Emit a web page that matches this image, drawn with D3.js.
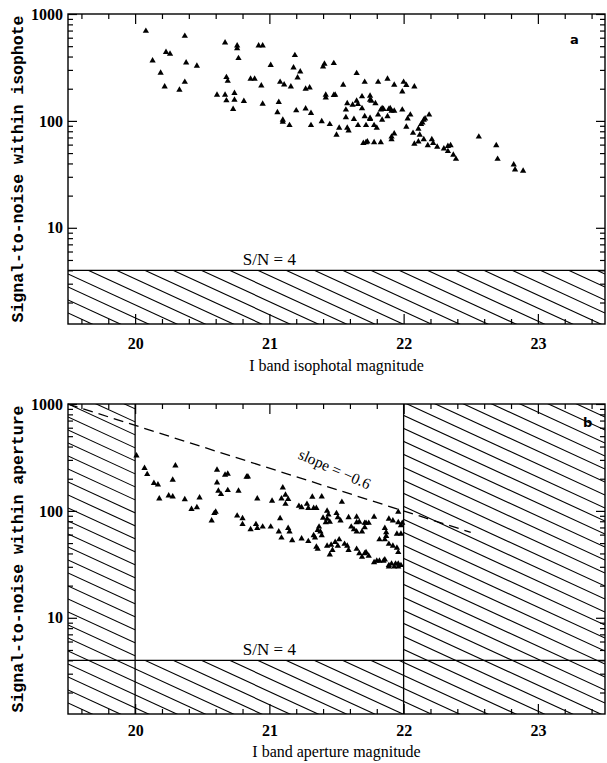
<!DOCTYPE html>
<html>
<head>
<meta charset="utf-8">
<script src="https://cdn.jsdelivr.net/npm/d3@7"></script>
<style>
  body { margin: 0; background: #fff; }
</style>
</head>
<body>
<div id="chart"></div>
<script>
var svgWidth = 607;
var svgHeight = 763;

var margin = { left: 68, right: 2 };
var width = svgWidth - margin.left - margin.right;
var height = 310;
var panelTops = [14, 404];

// panel a: I band isophotal magnitude vs S/N within isophote
var isoMag = [20.08, 20.13, 20.19, 20.22, 20.23, 20.26, 20.33, 20.37, 20.38, 20.37,
  20.46, 20.61, 20.67, 20.68, 20.69, 20.67, 20.68, 20.74, 20.74, 20.73,
  20.76, 20.76, 20.77, 20.81, 20.86, 20.89, 20.92, 20.95, 20.94, 20.95,
  21.01, 21.07, 21.08, 21.11, 21.06, 21.10, 21.10, 21.15, 21.16, 21.18,
  21.19, 21.21, 21.23, 21.20, 21.27, 21.30, 21.27, 21.31, 21.31, 21.39,
  21.40, 21.41, 21.42, 21.42, 21.45, 21.48, 21.48, 21.49, 21.50, 21.52,
  21.55, 21.58, 21.57, 21.57, 21.58, 21.59, 21.62, 21.63, 21.65, 21.65,
  21.66, 21.66, 21.69, 21.69, 21.71, 21.71, 21.70, 21.72, 21.73, 21.72,
  21.75, 21.75, 21.75, 21.75, 21.76, 21.78, 21.78, 21.79, 21.80, 21.81,
  21.81, 21.83, 21.83, 21.84, 21.84, 21.85, 21.88, 21.88, 21.89, 21.90,
  21.91, 21.91, 21.93, 21.93, 21.91, 21.93, 21.99, 21.99, 22.00, 22.02,
  22.02, 22.03, 22.05, 22.08, 22.07, 22.08, 22.11, 22.11, 22.12, 22.13,
  22.14, 22.15, 22.16, 22.18, 22.19, 22.15, 22.21, 22.22, 22.25, 22.30,
  22.33, 22.33, 22.35, 22.37, 22.39, 22.56, 22.69, 22.70, 22.82, 22.83,
  22.89];
var isoSN = [693, 366, 281, 209, 439, 423, 195, 622, 351, 231,
  327, 175, 540, 256, 236, 175, 155, 182, 157, 129,
  477, 506, 385, 153, 247, 247, 506, 506, 214, 144,
  332, 150, 231, 218, 120, 102, 98, 91, 209, 315,
  411, 254, 289, 125, 199, 205, 130, 118, 91, 99,
  321, 341, 175, 165, 93, 346, 174, 175, 74, 86,
  217, 146, 127, 108, 86, 81, 141, 104, 279, 154,
  143, 91, 169, 131, 231, 110, 62, 63, 64, 91,
  171, 157, 106, 104, 154, 91, 63, 146, 86, 231,
  114, 63, 127, 102, 131, 129, 247, 110, 129, 131,
  67, 71, 76, 217, 124, 124, 127, 188, 231, 216,
  88, 105, 114, 209, 77, 61, 64, 84, 74, 93,
  96, 102, 105, 59, 114, 67, 67, 62, 57, 55,
  58, 52, 59, 48, 44, 71, 59, 44, 39, 35,
  34];

// panel b: I band aperture magnitude vs S/N within aperture
var apMag = [20.01, 20.07, 20.09, 20.14, 20.17, 20.18, 20.25, 20.28, 20.30, 20.28,
  20.37, 20.42, 20.46, 20.48, 20.61, 20.61, 20.62, 20.64, 20.69, 20.67,
  20.69, 20.57, 20.59, 20.60, 20.77, 20.83, 20.84, 20.76, 20.80, 20.80,
  20.86, 20.91, 20.90, 20.91, 20.95, 21.01, 21.02, 21.07, 21.10, 21.09,
  21.12, 21.12, 21.14, 21.08, 21.09, 21.14, 21.15, 21.17, 21.22, 21.24,
  21.28, 21.29, 21.29, 21.32, 21.33, 21.34, 21.35, 21.36, 21.35, 21.37,
  21.36, 21.39, 21.39, 21.38, 21.40, 21.42, 21.43, 21.44, 21.43, 21.45,
  21.50, 21.51, 21.53, 21.54, 21.43, 21.46, 21.47, 21.49, 21.51, 21.45,
  21.52, 21.58, 21.59, 21.59, 21.65, 21.65, 21.61, 21.63, 21.65, 21.67,
  21.71, 21.72, 21.74, 21.71, 21.69, 21.56, 21.65, 21.67, 21.69, 21.71,
  21.72, 21.74, 21.78, 21.80, 21.82, 21.85, 21.86, 21.89, 21.91, 21.94,
  21.96, 21.98, 21.86, 21.87, 21.87, 21.89, 21.92, 21.96, 21.86, 21.89,
  21.92, 21.95, 21.96, 21.95, 21.98, 21.98, 21.99, 21.96, 21.33, 21.24,
  21.82, 21.78, 21.89, 21.93, 21.96];
var apSN = [329, 251, 220, 182, 176, 130, 139, 136, 265, 195,
  128, 104, 108, 133, 242, 184, 154, 143, 156, 217,
  222, 81, 95, 98, 154, 208, 209, 90, 85, 75,
  67, 130, 75, 69, 71, 71, 124, 64, 165, 130,
  141, 116, 129, 85, 56, 69, 64, 53, 111, 55,
  116, 106, 52, 135, 59, 56, 46, 44, 106, 71,
  66, 136, 59, 64, 86, 78, 84, 92, 100, 79,
  95, 87, 81, 121, 47, 48, 43, 51, 47, 39,
  54, 47, 43, 87, 88, 78, 71, 67, 64, 79,
  77, 77, 77, 70, 64, 49, 44, 40, 37, 40,
  41, 38, 33, 34, 34, 34, 35, 31, 32, 32,
  32, 31, 69, 63, 58, 84, 81, 78, 54, 49,
  47, 45, 41, 61, 61, 73, 77, 98, 106, 108,
  54, 88, 30, 30, 30];

var xMajor = [20, 21, 22, 23];
var yMajor = [10, 100, 1000];
var snLimit = 4;
var apertureCuts = [20, 22];
// dashed reference line, log S/N falls 0.4 per magnitude
var slopeMag = [19.5, 22.5];
var slopeSN = [1000, 63];

var xMinor = d3.range(98, 118).map(d => d / 5).filter(d => d % 1 != 0);
var yMinor = [];
[1, 10, 100].forEach(function(dec) {
  for (var k = 2; k <= 9; k++) if (k * dec > 1.3) yMinor.push(k * dec);
});

var svg = d3.select("#chart")
  .append("svg")
  .attr("width", svgWidth)
  .attr("height", svgHeight);

var xScale = d3.scaleLinear().domain([19.5, 23.5]).range([0, width]);
var yScale = d3.scaleLog().domain([Math.pow(10, 0.1), 1000]).range([height, 0]);

var serif = "'Liberation Serif', 'DejaVu Serif', serif";
var mono = "'Liberation Mono', 'DejaVu Sans Mono', monospace";

function clean(s) {
  s.select(".domain").remove();
  s.selectAll("line").attr("stroke", "#000").attr("stroke-width", 1.2);
}

function drawAxes(g, labelPad) {
  // inward ticks on all four sides
  g.append("g").attr("transform", `translate(0,${height})`)
    .call(d3.axisBottom(xScale).tickValues(xMinor).tickSize(-5).tickFormat(""))
    .call(clean);
  g.append("g").attr("transform", `translate(0,${height})`)
    .call(d3.axisBottom(xScale).tickValues(xMajor).tickSize(-10).tickPadding(labelPad).tickFormat(d3.format("d")))
    .call(clean)
    .attr("font-family", serif).attr("font-size", 16).attr("font-weight", "bold");
  g.append("g")
    .call(d3.axisTop(xScale).tickValues(xMinor).tickSize(-5).tickFormat(""))
    .call(clean);
  g.append("g")
    .call(d3.axisTop(xScale).tickValues(xMajor).tickSize(-10).tickFormat(""))
    .call(clean);

  g.append("g")
    .call(d3.axisLeft(yScale).tickValues(yMinor).tickSize(-5).tickFormat(""))
    .call(clean);
  g.append("g")
    .call(d3.axisLeft(yScale).tickValues(yMajor).tickSize(-9).tickPadding(5).tickFormat(d3.format("d")))
    .call(clean)
    .attr("font-family", serif).attr("font-size", 16).attr("font-weight", "bold");
  g.append("g").attr("transform", `translate(${width},0)`)
    .call(d3.axisRight(yScale).tickValues(yMinor).tickSize(-5).tickFormat(""))
    .call(clean);
  g.append("g").attr("transform", `translate(${width},0)`)
    .call(d3.axisRight(yScale).tickValues(yMajor).tickSize(-9).tickFormat(""))
    .call(clean);
}

function drawHatch(g, id, rects) {
  var clip = g.append("clipPath").attr("id", id);
  rects.forEach(function(r) {
    clip.append("rect").attr("x", r[0]).attr("y", r[1]).attr("width", r[2]).attr("height", r[3]);
  });
  var slope = 0.46, step = 13;
  var offsets = d3.range(-slope * width - step, height + step, step);
  g.append("g").attr("clip-path", `url(#${id})`)
    .selectAll("line")
    .data(offsets)
    .enter()
    .append("line")
    .attr("x1", 0).attr("y1", d => d)
    .attr("x2", width).attr("y2", d => d + slope * width)
    .attr("stroke", "#000").attr("stroke-width", 1.1);
}

function drawPoints(g, mags, sns) {
  var tri = d3.symbol().type(d3.symbolTriangle).size(17);
  g.append("g").selectAll("path")
    .data(mags.map((m, i) => [m, sns[i]]))
    .enter()
    .append("path")
    .attr("d", tri)
    .attr("transform", d => `translate(${xScale(d[0])},${yScale(d[1])})`)
    .attr("fill", "#000");
}

function panel(idx, mags, sns, xTitle, yTitle, letter) {
  var g = svg.append("g")
    .attr("transform", `translate(${margin.left}, ${panelTops[idx]})`);
  var yLim = yScale(snLimit);

  if (idx == 0) {
    drawHatch(g, "hatchA", [[0, yLim, width, height - yLim]]);
  } else {
    var xa = xScale(apertureCuts[0]), xb = xScale(apertureCuts[1]);
    drawHatch(g, "hatchB", [[0, 0, xa, height], [xb, 0, width - xb, height], [0, yLim, width, height - yLim]]);
    apertureCuts.forEach(function(c) {
      g.append("line")
        .attr("x1", xScale(c)).attr("x2", xScale(c))
        .attr("y1", 0).attr("y2", height)
        .attr("stroke", "#000").attr("stroke-width", 1.3);
    });
    var line = d3.line().x(d => xScale(d[0])).y(d => yScale(d[1]));
    g.append("path")
      .datum(slopeMag.map((m, i) => [m, slopeSN[i]]))
      .attr("d", line)
      .attr("fill", "none")
      .attr("stroke", "#000")
      .attr("stroke-width", 1.3)
      .attr("stroke-dasharray", "10,6");
    g.append("text")
      .attr("transform", `translate(${xScale(21.47)},${yScale(222)}) rotate(24)`)
      .attr("text-anchor", "middle")
      .attr("font-family", serif)
      .attr("font-size", 15.5)
      .text("slope = \u22120.6");
  }

  g.append("line")
    .attr("x1", 0).attr("x2", width)
    .attr("y1", yLim).attr("y2", yLim)
    .attr("stroke", "#000").attr("stroke-width", 1.3);
  g.append("text")
    .attr("x", xScale(21)).attr("y", yLim - 5)
    .attr("text-anchor", "middle")
    .attr("font-family", serif)
    .attr("font-size", 17)
    .text("S/N = 4");

  drawPoints(g, mags, sns);

  g.append("rect")
    .attr("width", width).attr("height", height)
    .attr("fill", "none").attr("stroke", "#000").attr("stroke-width", 1.4);

  drawAxes(g, idx == 0 ? 14 : 11);

  g.append("text")
    .attr("x", idx == 0 ? width - 35 : width - 22)
    .attr("y", idx == 0 ? 30 : 23)
    .attr("font-family", "'DejaVu Sans', sans-serif")
    .attr("font-weight", "bold")
    .attr("font-size", 13)
    .text(letter);

  g.append("text")
    .attr("x", width / 2).attr("y", idx == 0 ? height + 47 : height + 43)
    .attr("text-anchor", "middle")
    .attr("font-family", serif)
    .attr("font-size", 16)
    .text(xTitle);

  g.append("text")
    .attr("transform", `translate(-45,${height / 2}) rotate(-90)`)
    .attr("text-anchor", "middle")
    .attr("font-family", mono)
    .attr("font-weight", "bold")
    .attr("font-size", 16.5)
    .text(yTitle);
}

panel(0, isoMag, isoSN, "I band isophotal magnitude", "Signal-to-noise within isophote", "a");
panel(1, apMag, apSN, "I band aperture magnitude", "Signal-to-noise within aperture", "b");
</script>
</body>
</html>
